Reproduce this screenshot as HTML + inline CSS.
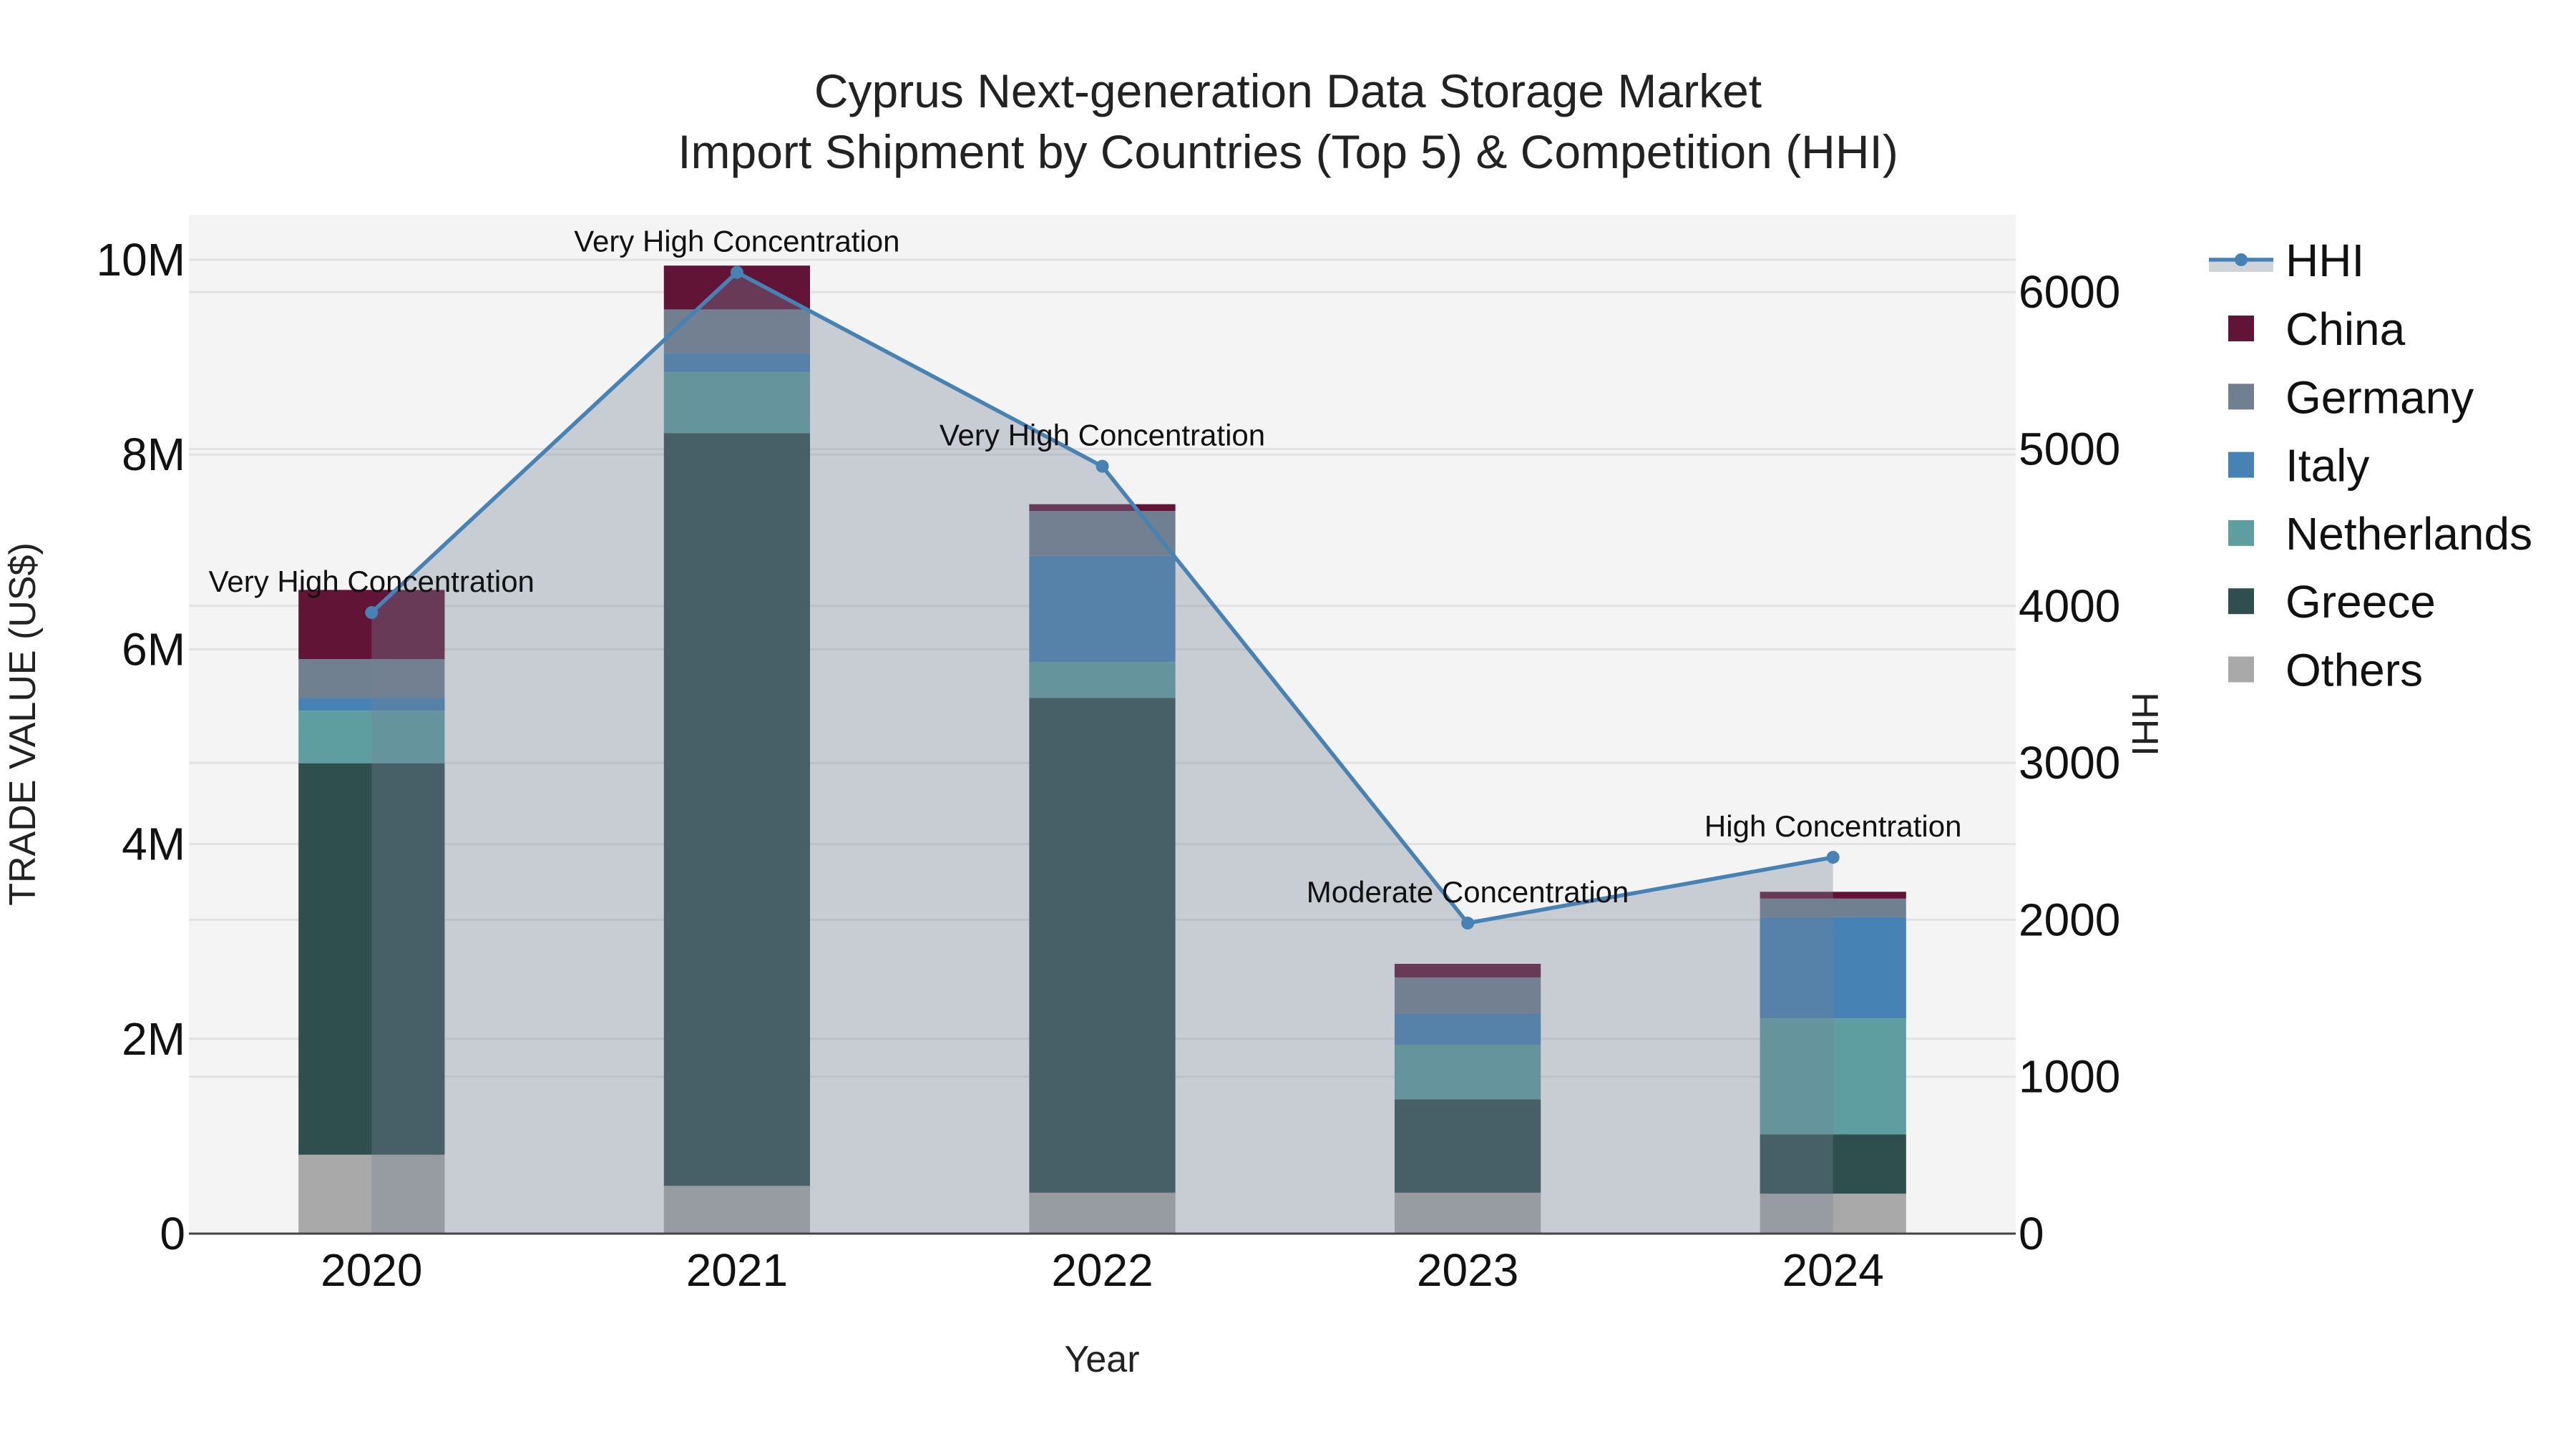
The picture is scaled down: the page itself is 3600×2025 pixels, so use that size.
<!DOCTYPE html>
<html><head><meta charset="utf-8"><style>
html,body{margin:0;padding:0;background:#fff;}
svg{display:block;font-family:"Liberation Sans",sans-serif;}
</style></head><body>
<svg id="chart" width="3600" height="2025" viewBox="0 0 3600 2025" xmlns="http://www.w3.org/2000/svg">
<rect x="0" y="0" width="3600" height="2025" fill="#fff"/>
<text x="1800" y="150" text-anchor="middle" font-size="66" fill="#222">Cyprus Next-generation Data Storage Market</text>
<text x="1800" y="235" text-anchor="middle" font-size="66" fill="#222">Import Shipment by Countries (Top 5) &amp; Competition (HHI)</text>
<rect x="264" y="300" width="2553" height="1424" fill="#f4f4f4"/>
<g id="grid"></g>
<g id="bars"></g>
<g id="hhi"></g>
<g id="axes"></g>
<g id="legend"></g>
</svg>
<script>
const years = ["2020","2021","2022","2023","2024"];
const seriesNames = ["Others","Greece","Netherlands","Italy","Germany","China"];
const others = [0.81, 0.49, 0.42, 0.42, 0.41];
const greece = [4.02, 7.73, 5.08, 0.96, 0.61];
const netherlands = [0.54, 0.63, 0.37, 0.56, 1.19];
const italy = [0.13, 0.19, 1.09, 0.32, 1.04];
const germany = [0.40, 0.45, 0.46, 0.37, 0.19];
const china = [0.71, 0.45, 0.07, 0.14, 0.07];
const hhi = [3958, 6126, 4890, 1979, 2398];
const hhiLabels = ["Very High Concentration","Very High Concentration","Very High Concentration","Moderate Concentration","High Concentration"];
const leftTicks = [0, 2, 4, 6, 8, 10];
const leftTickLabels = ["0","2M","4M","6M","8M","10M"];
const rightTicks = [0, 1000, 2000, 3000, 4000, 5000, 6000];

const colors = {Others:"#a9a9a9",Greece:"#2f4f4f",Netherlands:"#5f9ea0",Italy:"#4682b4",Germany:"#708090",China:"#611436"};
const seriesData = [others, greece, netherlands, italy, germany, china];
const NS = "http://www.w3.org/2000/svg";
const L = 264, R = 2817, T = 300, B = 1724;
const band = (R - L) / years.length;
const xPos = i => L + band * (i + 0.5);
const yL = v => B - v * 136.1;
const yR = v => B - v * 0.2193;
function mk(tag, attrs, parent) {
  const e = document.createElementNS(NS, tag);
  for (const k in attrs) e.setAttribute(k, attrs[k]);
  parent.appendChild(e);
  return e;
}
const grid = document.getElementById('grid');
leftTicks.forEach(t => {
  const g = mk('line', {x1:L, x2:R, y1:yL(t), y2:yL(t), stroke:"#e2e2e2", "stroke-width":3}, grid);
  
  
});
rightTicks.forEach(t => {
  const g = mk('line', {x1:L, x2:R, y1:yR(t), y2:yR(t), stroke:"#e2e2e2", "stroke-width":3}, grid);
  
  
});
const bars = document.getElementById('bars');
const bw = band * 0.4;
years.forEach((y, i) => {
  let base = 0;
  seriesData.forEach((arr, s) => {
    const v = arr[i];
    const r = mk('rect', {x:xPos(i) - bw/2, y:yL(base + v), width:bw, height:yL(base) - yL(base + v), fill:colors[seriesNames[s]]}, bars);
    
    
    base += v;
  });
});
const hg = document.getElementById('hhi');
let pts = hhi.map((v, i) => xPos(i) + "," + yR(v));
const area = mk('polygon', {points: xPos(0) + "," + B + " " + pts.join(" ") + " " + xPos(hhi.length - 1) + "," + B, fill:"rgba(118,130,150,0.35)"}, hg);


const line = mk('polyline', {points: pts.join(" "), fill:"none", stroke:"#4682b4", "stroke-width":5.5}, hg);


hhi.forEach((v, i) => {
  const c = mk('circle', {cx:xPos(i), cy:yR(v), r:9, fill:"#4682b4"}, hg);
  
  
  const t = mk('text', {x:xPos(i), y:yR(v) - 29, "text-anchor":"middle", "font-size":42, fill:"#111"}, hg);
  t.textContent = hhiLabels[i];
  
  
});
const ax = document.getElementById('axes');
const axl = mk('line', {x1:L, x2:R, y1:B, y2:B, stroke:"#444", "stroke-width":3}, ax);


leftTicks.forEach((t, i) => {
  const e = mk('text', {x:259, y:yL(t) + 22, "text-anchor":"end", "font-size":64, fill:"#111"}, ax);
  e.textContent = leftTickLabels[i];
  
  
});
rightTicks.forEach(t => {
  const e = mk('text', {x:2821, y:yR(t) + 22, "text-anchor":"start", "font-size":64, fill:"#111"}, ax);
  e.textContent = String(t);
  
  
});
years.forEach((y, i) => {
  const e = mk('text', {x:xPos(i), y:1797, "text-anchor":"middle", "font-size":64, fill:"#111"}, ax);
  e.textContent = y;
  
  
});
const xt = mk('text', {x:1540, y:1917, "text-anchor":"middle", "font-size":52, fill:"#222"}, ax);
xt.textContent = "Year";


const ylt = mk('text', {x:0, y:0, transform:"translate(49,1012) rotate(-90)", "text-anchor":"middle", "font-size":52, fill:"#222"}, ax);
ylt.textContent = "TRADE VALUE (US$)";


const yrt = mk('text', {x:0, y:0, transform:"translate(2980,1012) rotate(90)", "text-anchor":"middle", "font-size":52, fill:"#222"}, ax);
yrt.textContent = "HHI";


const lg = document.getElementById('legend');
const r0 = mk('rect', {x:3087, y:366, width:90, height:14, fill:"rgba(118,130,150,0.35)"}, lg);


const l0 = mk('line', {x1:3087, x2:3177, y1:363, y2:363, stroke:"#4682b4", "stroke-width":5.5}, lg);


const c0 = mk('circle', {cx:3132, cy:363, r:9, fill:"#4682b4"}, lg);


const t0 = mk('text', {x:3194, y:386, "font-size":64, fill:"#111"}, lg);
t0.textContent = "HHI";


const legendOrder = ["China","Germany","Italy","Netherlands","Greece","Others"];
legendOrder.forEach((n, i) => {
  const cy = 459 + i * 95.3;
  const s = mk('rect', {x:3114, y:cy - 18, width:36, height:36, fill:colors[n]}, lg);
  
  
  const t = mk('text', {x:3194, y:cy + 23, "font-size":64, fill:"#111"}, lg);
  t.textContent = n;
  
  
});
</script>
</body></html>
